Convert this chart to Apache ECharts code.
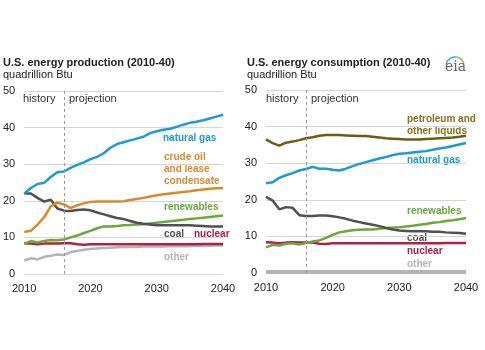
<!DOCTYPE html>
<html>
<head>
<meta charset="utf-8">
<script src="https://cdn.jsdelivr.net/npm/echarts@6/dist/echarts.min.js"></script>
<style>
  html, body { margin: 0; padding: 0; background: #fff; }
  #main { width: 485px; height: 350px; }
</style>
</head>
<body>
<div id="main"></div>
<script>
var years = ['2010','2011','2012','2013','2014','2015','2016','2017','2018','2019','2020',
             '2021','2022','2023','2024','2025','2026','2027','2028','2029','2030',
             '2031','2032','2033','2034','2035','2036','2037','2038','2039','2040'];

// production (quadrillion Btu)
var prodGas = [22, 23.5, 24.6, 24.9, 26.5, 27.8, 28, 29, 29.8, 30.5, 31.4,
               32, 33, 34.5, 35.5, 36, 36.5, 37, 37.5, 38.5, 39,
               39.4, 39.7, 40.2, 40.8, 41.3, 41.6, 42, 42.5, 43, 43.5];
var prodOil = [11.5, 11.8, 13.5, 15.5, 18.5, 19.5, 19, 18, 18.8, 19.3, 19.7,
               19.8, 19.8, 19.8, 19.8, 19.9, 20.2, 20.5, 20.8, 21.2, 21.5,
               21.8, 22, 22.2, 22.4, 22.6, 22.9, 23.1, 23.3, 23.4, 23.5];
var prodCoal = [22, 22, 20.8, 19.8, 20.3, 17.9, 17.3, 17.2, 17.5, 17.6, 17.4,
                16.8, 16.3, 15.8, 15.3, 15, 14.5, 14, 13.7, 13.5, 13.3,
                13.3, 13.3, 13.3, 13.3, 13.3, 13.2, 13.1, 13, 13, 13];
var prodRenew = [8.3, 9, 8.6, 9, 9.3, 9.2, 9.4, 10, 10.5, 11.2, 11.8,
                 12.5, 13, 13, 13.1, 13.3, 13.4, 13.5, 13.6, 13.8, 14,
                 14.2, 14.4, 14.6, 14.8, 15, 15.2, 15.4, 15.6, 15.8, 16];
var prodNuclear = [8.4, 8.3, 8.1, 8.3, 8.3, 8.3, 8.4, 8.4, 8.1, 8, 8.1,
                   8.1, 8.1, 8.1, 8.1, 8.1, 8.1, 8.1, 8.1, 8.1, 8.1,
                   8.1, 8.1, 8.1, 8.1, 8.1, 8.1, 8.2, 8.2, 8.2, 8.2];
var prodOther = [3.7, 4.3, 4, 4.7, 5, 5.3, 5.2, 6, 6.3, 6.6, 6.8,
                 7, 7.1, 7.2, 7.3, 7.4, 7.4, 7.4, 7.5, 7.5, 7.5,
                 7.5, 7.6, 7.6, 7.6, 7.6, 7.7, 7.7, 7.7, 7.8, 7.8];

// consumption (quadrillion Btu)
var consPetro = [36.5, 35.5, 34.8, 35.6, 35.9, 36.3, 36.8, 37.1, 37.5, 37.7, 37.7,
                 37.7, 37.6, 37.5, 37.4, 37.4, 37.2, 37, 36.8, 36.7, 36.6,
                 36.5, 36.5, 36.5, 36.6, 36.7, 36.8, 36.9, 37, 37.2, 37.5];
var consGas = [24.5, 24.8, 26, 26.7, 27.3, 28, 28.4, 29, 28.5, 28.5, 28.2,
               28, 28.5, 29.2, 29.8, 30.3, 30.8, 31.3, 31.7, 32.2, 32.6,
               32.7, 32.9, 33.1, 33.3, 33.7, 34, 34.3, 34.7, 35.1, 35.5];
var consCoal = [20.8, 19.8, 17.4, 18, 17.8, 15.8, 15.6, 15.6, 15.7, 15.7, 15.5,
                15.2, 14.8, 14.3, 13.9, 13.5, 13.2, 12.8, 12.3, 11.9, 11.6,
                11.5, 11.4, 11.4, 11.4, 11.3, 11.3, 11.1, 11, 10.9, 10.7];
var consRenew = [7, 7.7, 7.5, 8, 8.1, 7.8, 8.2, 8.6, 8.9, 9.6, 10.4,
                 11.1, 11.4, 11.7, 11.8, 11.9, 11.9, 12.1, 12.3, 12.4, 12.5,
                 12.7, 12.9, 13.2, 13.4, 13.7, 13.9, 14.2, 14.4, 14.7, 15];
var consNuclear = [8.4, 8.3, 8.1, 8.3, 8.4, 8.3, 8.3, 8.3, 8, 7.9, 8.1,
                   8.1, 8.1, 8.1, 8.1, 8.1, 8.1, 8.1, 8.1, 8.1, 8.1,
                   8.1, 8.1, 8.1, 8.1, 8.1, 8.1, 8.2, 8.2, 8.2, 8.2];
var consOther = [0.3, 0.3, 0.3, 0.3, 0.3, 0.3, 0.3, 0.3, 0.3, 0.3, 0.3,
                 0.3, 0.3, 0.3, 0.3, 0.3, 0.3, 0.3, 0.3, 0.3, 0.3,
                 0.3, 0.3, 0.3, 0.3, 0.3, 0.3, 0.3, 0.3, 0.3, 0.3];

var cGas = '#1d9ad6', cOil = '#d9892c', cCoal = '#505054', cRenew = '#6aa83c',
    cNuc = '#b2203e', cOther = '#b4b4b4', cPetro = '#6e5c14', cPetroTxt = '#86711c';
var font = 'Liberation Sans, Arial, sans-serif';

function line(name, data, color, idx, width) {
    return {
        name: name, type: 'line', xAxisIndex: idx, yAxisIndex: idx,
        data: data, showSymbol: false, symbol: 'none', silent: true,
        lineStyle: { color: color, width: width || 2.5 }
    };
}

function xAx(idx) {
    return {
        type: 'category', gridIndex: idx, data: years, boundaryGap: false,
        axisLine: { show: false }, axisTick: { show: false },
        axisLabel: { interval: 9, color: '#222', fontSize: 11, fontFamily: font, margin: 9 },
        splitLine: { show: false }
    };
}
function yAx(idx) {
    return {
        type: 'value', gridIndex: idx, min: 0, max: 50, interval: 10,
        axisLine: { show: false }, axisTick: { show: false },
        axisLabel: { color: '#222', fontSize: 11, fontFamily: font, margin: 9 },
        splitLine: { lineStyle: { color: '#d6d6d6', width: 1 } }
    };
}

var divider = {
    silent: true, symbol: 'none', label: { show: false },
    lineStyle: { color: '#999', type: [3, 3], width: 1 },
    data: [{ xAxis: '2016' }]
};

var s1 = [
    line('other', prodOther, cOther, 0),
    line('nuclear', prodNuclear, cNuc, 0),
    line('renewables', prodRenew, cRenew, 0),
    line('coal', prodCoal, cCoal, 0),
    line('crude oil and lease condensate', prodOil, cOil, 0),
    line('natural gas', prodGas, cGas, 0)
];
s1[0].markLine = divider;
var s2 = [
    line('other', consOther, cOther, 1, 4),
    line('nuclear', consNuclear, cNuc, 1),
    line('renewables', consRenew, cRenew, 1),
    line('coal', consCoal, cCoal, 1),
    line('natural gas', consGas, cGas, 1),
    line('petroleum and other liquids', consPetro, cPetro, 1)
];
s2[0].markLine = divider;

function lbl(x, y, text, color, bold) {
    return {
        type: 'text', left: x, top: y, silent: true,
        style: { text: text, fill: color, font: (bold === false ? '' : 'bold ') + '10px ' + font, lineHeight: 12 }
    };
}

var chart = echarts.init(document.getElementById('main'));
chart.setOption({
    backgroundColor: '#fff',
    animation: false,
    title: [
        { text: 'U.S. energy production (2010-40)', subtext: 'quadrillion Btu', left: 1, top: 55, itemGap: 1, padding: [2, 2],
          textStyle: { fontSize: 11, fontWeight: 'bold', color: '#222', fontFamily: font },
          subtextStyle: { fontSize: 11, color: '#222', fontFamily: font } },
        { text: 'U.S. energy consumption (2010-40)', subtext: 'quadrillion Btu', left: 245, top: 55, itemGap: 1, padding: [2, 2],
          textStyle: { fontSize: 11, fontWeight: 'bold', color: '#222', fontFamily: font },
          subtextStyle: { fontSize: 11, color: '#222', fontFamily: font } }
    ],
    grid: [
        { left: 22, right: 262, top: 91, bottom: 76 },
        { left: 266, right: 19, top: 90, bottom: 77 }
    ],
    xAxis: [xAx(0), xAx(1)],
    yAxis: [yAx(0), yAx(1)],
    series: s1.concat(s2),
    graphic: [
        { type: 'text', left: 23, top: 93, silent: true, style: { text: 'history', fill: '#333', font: '11px ' + font } },
        { type: 'text', left: 69, top: 93, silent: true, style: { text: 'projection', fill: '#333', font: '11px ' + font } },
        { type: 'text', left: 266, top: 93, silent: true, style: { text: 'history', fill: '#333', font: '11px ' + font } },
        { type: 'text', left: 311, top: 93, silent: true, style: { text: 'projection', fill: '#333', font: '11px ' + font } },
        lbl(163, 132, 'natural gas', cGas),
        lbl(164, 151, 'crude oil\nand lease\ncondensate', cOil),
        lbl(164, 201, 'renewables', cRenew),
        lbl(164, 228, 'coal', cCoal),
        lbl(194, 228, 'nuclear', cNuc),
        lbl(164, 251, 'other', cOther),
        lbl(407, 113, 'petroleum and\nother liquids', cPetroTxt),
        lbl(407, 154, 'natural gas', cGas),
        lbl(407, 205, 'renewables', cRenew),
        lbl(407, 232, 'coal', cCoal),
        lbl(407, 245, 'nuclear', cNuc),
        lbl(407, 258, 'other', cOther),
        { type: 'arc', silent: true, shape: { cx: 455, cy: 66, r: 9, startAngle: Math.PI * 1.05, endAngle: Math.PI * 1.55 },
          style: { stroke: '#3aa6d8', lineWidth: 1.5, fill: null } },
        { type: 'arc', silent: true, shape: { cx: 455, cy: 66, r: 9, startAngle: Math.PI * 1.55, endAngle: Math.PI * 1.95 },
          style: { stroke: '#8cc04b', lineWidth: 1.5, fill: null } },
        { type: 'text', left: 445, top: 60, silent: true, style: { text: 'eia', fill: '#666', font: '14px DejaVu Serif, serif' } }
    ]
});
</script>
</body>
</html>
